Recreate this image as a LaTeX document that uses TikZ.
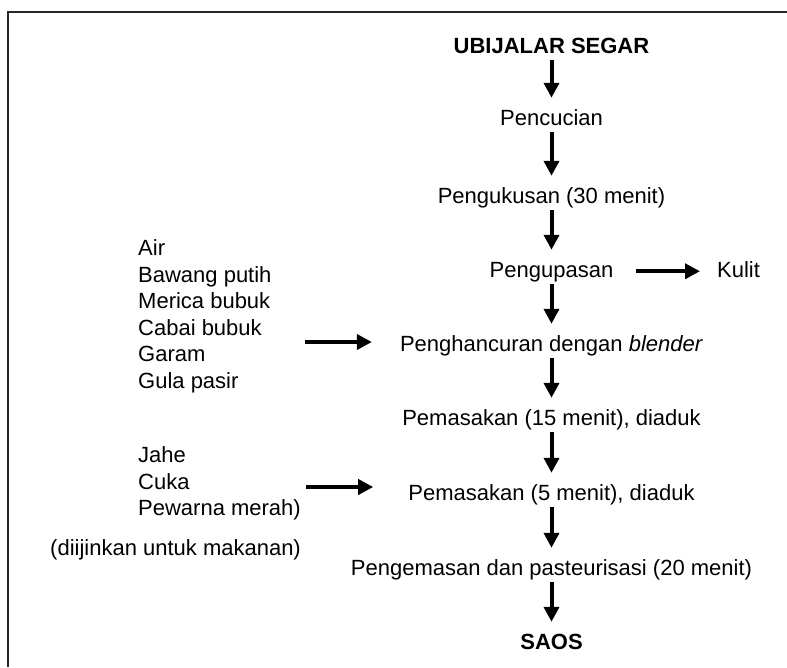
\documentclass[tikz,border=0pt]{standalone}
\usepackage{fontspec}
\setmainfont{Liberation Sans}
\usetikzlibrary{arrows.meta}
\tikzset{
  txt/.style={font=\fontsize{22}{26.6}\selectfont, inner sep=0pt},
  proc/.style={txt, anchor=base, text height=16pt, text depth=4.5pt, inner ysep=2.5pt},
  flow/.style={line width=4pt, -{Triangle[width=15pt,length=15pt]}, shorten >=8.5pt},
  side/.style={line width=4pt, -{Triangle[width=15pt,length=15pt]}},
  frame/.style={line width=2pt, draw=black!85},
}
\begin{document}
\begin{tikzpicture}[x=1pt,y=-1pt]
\useasboundingbox (0,0) rectangle (787,667);
\draw[frame] (787,12) -- (8,12) -- (8,667);

% main column
\node[proc, font=\fontsize{22}{26.6}\selectfont\bfseries] (ubi) at (551.5,53) {UBIJALAR SEGAR};
\node[proc] (cuci) at (551.5,125) {Pencucian};
\node[proc] (kukus) at (551.5,203) {Pengukusan (30 menit)};
\node[proc] (kupas) at (551.5,277) {Pengupasan};
\node[proc] (hancur) at (551.5,351) {Penghancuran dengan \textit{blender}};
\node[proc] (masak1) at (551.5,425) {Pemasakan (15 menit), diaduk};
\node[proc] (masak2) at (551.5,500) {Pemasakan (5 menit), diaduk};
\node[proc] (kemas) at (551.5,575) {Pengemasan dan pasteurisasi (20 menit)};
\node[proc, font=\fontsize{22}{26.6}\selectfont\bfseries] (saos) at (551.5,649) {SAOS};

% side nodes
\node[proc, anchor=base west] (kulit) at (717,277) {Kulit};
\node[txt, anchor=north west, align=left] (bahan1) at (138,239.3)
  {Air\\Bawang putih\\Merica bubuk\\Cabai bubuk\\Garam\\Gula pasir};
\node[txt, anchor=north west, align=left] (bahan2) at (138,446.3)
  {Jahe\\Cuka\\Pewarna merah)};
\node[txt, anchor=base west] (catatan) at (50,555) {(diijinkan untuk makanan)};

% main flow
\draw[flow] (ubi.south) -- (cuci.north);
\draw[flow] (cuci.south) -- (kukus.north);
\draw[flow] (kukus.south) -- (kupas.north);
\draw[flow] (kupas.south) -- (hancur.north);
\draw[flow] (hancur.south) -- (masak1.north);
\draw[flow] (masak1.south) -- (masak2.north);
\draw[flow] (masak2.south) -- (kemas.north);
\draw[flow] (kemas.south) -- (saos.north);

% side flows
\draw[side, shorten <=23pt, shorten >=17pt] (kupas.east) -- (kulit.west);
\coordinate (in1) at (305,342);
\coordinate (in2) at (306,487);
\draw[side, shorten >=28pt] (in1) -- (in1 -| hancur.west);
\draw[side, shorten >=35pt] (in2) -- (in2 -| masak2.west);
\end{tikzpicture}
\end{document}
